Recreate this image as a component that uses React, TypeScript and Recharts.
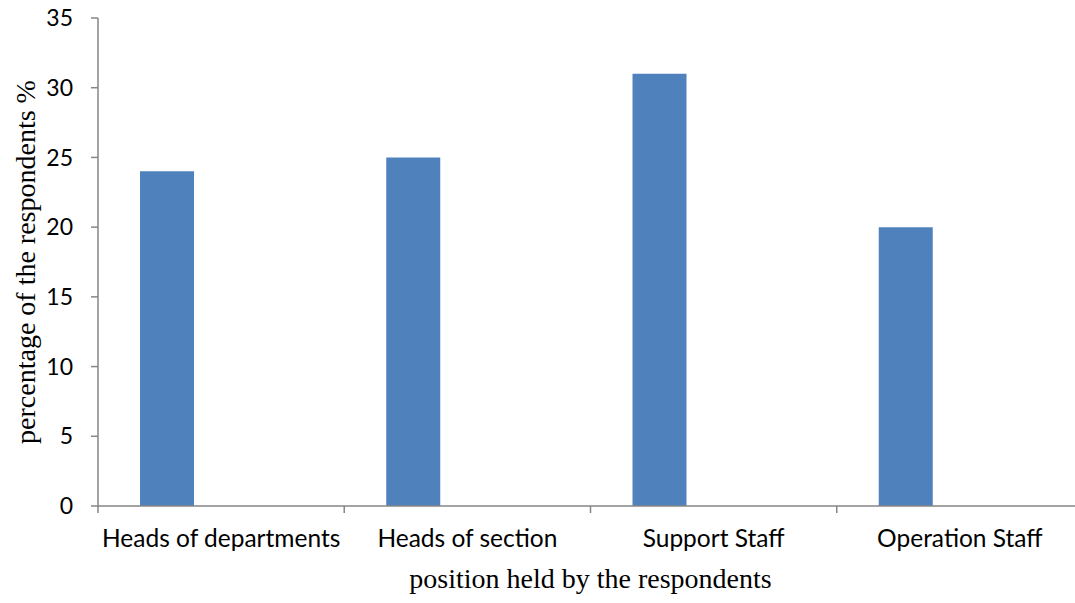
import { BarChart, Bar, XAxis, YAxis, Label } from "recharts";

const positions = [
  "Heads of departments",
  "Heads of section",
  "Support Staff",
  "Operation Staff",
];
const percentages = [24, 25, 31, 20];
// Excel left two empty series in the cluster, which pushes each bar to the left
const emptyA = [null, null, null, null];
const emptyB = [null, null, null, null];
const yTicks = [0, 5, 10, 15, 20, 25, 30, 35];

const rows = positions.map((p, i) => ({
  position: p,
  pct: percentages[i],
  a: emptyA[i],
  b: emptyB[i],
}));

const AXIS = "#868686";

function CategoryTick(props: any) {
  const { x, y, payload } = props;
  const half = payload?.offset ?? 0;
  const axisY = y - 7;
  return (
    <g>
      <line x1={x - half} x2={x - half} y1={axisY} y2={axisY + 7} stroke={AXIS} strokeWidth={1.5} />
      <text
        x={x}
        y={axisY + 41}
        textAnchor="middle"
        fill="#000"
        style={{ fontFamily: "Lato", fontSize: 24.5 }}
      >
        {payload.value}
      </text>
    </g>
  );
}

export default function App() {
  return (
    <div
      style={{
        position: "absolute",
        left: 0,
        top: 0,
        width: 1075,
        height: 603,
        overflow: "hidden",
        background: "#fff",
      }}
    >
      <BarChart
        width={1090}
        height={603}
        data={rows}
        margin={{ top: 18, right: 7, bottom: 0, left: 0 }}
        barCategoryGap={42}
        barGap={0}
      >
        <XAxis
          dataKey="position"
          height={97}
          stroke={AXIS}
          strokeWidth={1.5}
          tickLine={false}
          tickSize={7}
          tickMargin={0}
          interval={0}
          tick={<CategoryTick />}
        >
          <Label
            content={({ viewBox }: any) => (
              <text
                x={viewBox.x + viewBox.width / 2}
                y={viewBox.y + 82}
                textAnchor="middle"
                fill="#000"
                style={{ fontFamily: "Liberation Serif", fontSize: 28 }}
              >
                position held by the respondents
              </text>
            )}
          />
        </XAxis>
        <YAxis
          width={98}
          domain={[0, 35]}
          ticks={yTicks}
          stroke={AXIS}
          strokeWidth={1.5}
          tickSize={7}
          tickMargin={18}
          tick={{ fill: "#000", fontFamily: "Lato", fontSize: 23 }}
        >
          <Label
            content={({ viewBox }: any) => {
              const cx = 25;
              const cy = viewBox.y + viewBox.height / 2;
              return (
                <text
                  x={cx}
                  y={cy}
                  transform={`rotate(-90, ${cx}, ${cy})`}
                  textAnchor="middle"
                  dominantBaseline="central"
                  fill="#000"
                  style={{ fontFamily: "Liberation Serif", fontSize: 28 }}
                >
                  percentage of the respondents %
                </text>
              );
            }}
          />
        </YAxis>
        <Bar dataKey="pct" fill="#4F81BD" isAnimationActive={false} />
        <Bar dataKey="a" fill="#C0504D" isAnimationActive={false} />
        <Bar dataKey="b" fill="#9BBB59" isAnimationActive={false} />
      </BarChart>
    </div>
  );
}
